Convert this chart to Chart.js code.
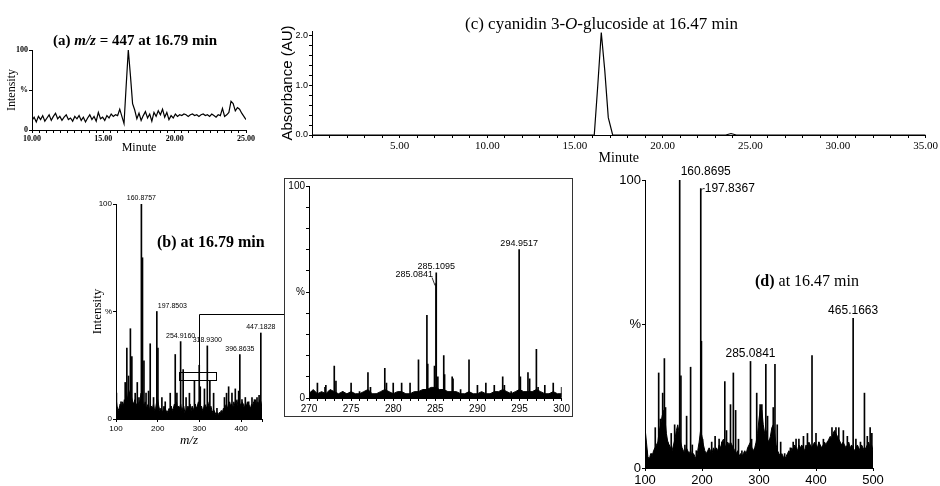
<!DOCTYPE html>
<html>
<head>
<meta charset="utf-8">
<script src="https://cdn.jsdelivr.net/npm/chart.js@4.4.1/dist/chart.umd.min.js"></script>
<style>
body { margin: 0; background: #fff; width: 940px; height: 486px; overflow: hidden; position: relative; }
canvas { position: absolute; }
.ttl { position: absolute; white-space: nowrap; font-family: "Liberation Serif", "Times New Roman", serif; color: #000; line-height: 1; }
#insetBox { position: absolute; left: 284px; top: 178px; width: 289px; height: 239px; border: 1px solid #333; box-sizing: border-box; }
</style>
</head>
<body>
<canvas id="chartA" width="262" height="165" style="left:0;top:0"></canvas>
<canvas id="chartC" width="670" height="170" style="left:270px;top:0"></canvas>
<canvas id="chartB" width="205" height="280" style="left:80px;top:180px"></canvas>
<div id="insetBox"></div>
<canvas id="chartInset" width="287" height="237" style="left:285px;top:179px"></canvas>
<canvas id="chartD" width="290" height="321" style="left:600px;top:165px"></canvas>

<div class="ttl" style="left:53px;top:33px;font-size:15px;font-weight:bold">(a) <i>m/z</i> = 447 at 16.79 min</div>
<div class="ttl" style="left:465px;top:15px;font-size:17px">(c) cyanidin 3-<i>O</i>-glucoside at 16.47 min</div>
<div class="ttl" style="left:157px;top:234px;font-size:16px;font-weight:bold">(b) at 16.79 min</div>
<div class="ttl" style="left:755px;top:273px;font-size:16px"><b>(d)</b> at 16.47 min</div>

<script>
const serif = '"Liberation Serif", "Times New Roman", serif';
const sans = '"Liberation Sans", Arial, sans-serif';

// (a) extracted ion chromatogram m/z 447, one value every 0.15 min from 10.00
const aStart = 10;
const aStep = 0.15;
const aIntensity = [
  12, 16, 10, 17, 13, 18, 11, 15, 19, 12,
  17, 21, 14, 17, 12, 16, 19, 13, 15, 11,
  17, 14, 18, 12, 16, 10, 15, 19, 13, 17,
  11, 22, 14, 16, 12, 18, 15, 20, 17, 19,
  18, 26, 17, 8, 55, 100, 68, 33, 25, 14,
  21, 12, 18, 23, 15, 20, 11, 22, 17, 24,
  19, 26, 16, 22, 13, 18, 15, 20, 17, 19,
  18, 20, 19, 17, 19, 20, 18, 19, 17, 19,
  20, 18, 19, 17, 20, 18, 16, 19, 18, 27,
  17, 19, 22, 36, 33, 24, 28, 26, 21, 17, 13
];

// (c) UV chromatogram
const cTime = [0, 16.1, 16.3, 16.5, 16.7, 16.9, 17.15, 23.6, 23.9, 24.2, 35];
const cAbs = [0, 0, 1.0, 2.07, 1.3, 0.35, 0, 0, 0.03, 0, 0];

// (b) MS spectrum at 16.79 min: peaks and baseline (every 2.5 from m/z 100)
const bMz = [101, 112, 122, 126, 130, 134.5, 138, 146, 151, 155, 160.8757, 163.5, 167, 172, 178,
  182, 190, 197.8503, 200.5, 210, 218, 230, 242, 246, 254.916, 261, 268, 276, 288, 299.5,
  302, 312, 318.93, 325, 334, 342, 360, 365, 370, 378, 386, 394, 396.8635, 402, 410,
  418, 426, 432, 438, 443, 447.1828];
const bInt = [12, 8, 17, 33, 20, 42, 29, 12, 17, 10, 100, 75, 27, 12, 13,
  35, 10, 50, 33, 10, 8, 12, 30, 12, 36, 23, 10, 12, 18, 25,
  15, 14, 34, 18, 12, 5, 10, 12, 15, 12, 14, 13, 30, 9, 10,
  8, 10, 9, 10, 11, 40];
const bBaseStart = 100;
const bBaseStep = 2.5;
const bBase = [
  10, 6, 4, 5, 7, 5, 8, 6, 9, 7,
  11, 9, 13, 12, 14, 10, 8, 7, 9, 6,
  7, 8, 6, 9, 12, 10, 7, 6, 8, 5,
  6, 7, 5, 4, 6, 5, 7, 4, 5, 8,
  9, 6, 4, 5, 3, 4, 6, 5, 4, 3,
  4, 5, 3, 6, 4, 5, 7, 6, 8, 5,
  6, 5, 7, 4, 5, 6, 3, 4, 5, 6,
  5, 7, 4, 6, 5, 4, 7, 5, 6, 8,
  7, 5, 6, 4, 5, 7, 6, 5, 8, 6,
  5, 6, 4, 3, 4, 3, 2, 3, 2, 3,
  3, 4, 3, 5, 4, 6, 7, 5, 6, 8,
  6, 7, 5, 8, 6, 7, 9, 6, 8, 7,
  6, 8, 7, 5, 7, 6, 8, 7, 6, 5,
  7, 6, 8, 7, 9, 6, 8, 7, 9, 8,
  5
];
const bLabelMz = [160.8757, 197.8503, 254.916, 318.93, 396.8635, 447.1828];
const bLabelAlign = ['center', 'left', 'center', 'center', 'center', 'center'];
const boxMz = [250, 338];
const boxInt = [18.5, 22];
const connectorMz = 300;
const connectorInt = 49;

// inset: m/z 270-300 expansion
const insetMz = [270.3, 271, 271.9, 272, 273, 273.2, 274, 275, 276, 277, 277.3, 278, 279, 279.2, 280,
  281, 282, 283, 284, 284.1, 284.9, 285.0841, 285.1095, 285.3, 286, 286.1, 287, 287.1, 288, 289,
  290, 291, 292, 293, 293.2, 294, 294.9517, 295.1, 296, 296.2, 297, 297.2, 298, 299, 300];
const insetInt = [3, 7, 5, 6, 15, 8, 3, 7, 3, 12, 5, 2, 14, 7, 7,
  7, 7, 18, 39, 16, 15, 54, 59, 10, 20, 11, 10, 9, 4, 18,
  6, 7, 6, 10, 6, 3, 70, 10, 12, 9, 23, 5, 6, 7, 5];
const insetBaseStart = 270;
const insetBaseStep = 0.5;
const insetBase = [
  2, 4, 2, 3, 2, 4, 3, 2, 3, 2,
  3, 2, 2, 3, 4, 2, 2, 3, 4, 3,
  2, 3, 3, 2, 2, 3, 3, 4, 4, 5,
  5, 4, 4, 3, 3, 3, 2, 2, 3, 2,
  2, 3, 2, 2, 3, 3, 4, 3, 2, 3,
  4, 3, 3, 3, 4, 3, 2, 2, 3, 2,
  2
];
const insetLabelMz = [285.0841, 285.1095, 294.9517];
const insetLabelAlign = ['right', 'center', 'center'];

// (d) MS spectrum at 16.47 min
const dMz = [100, 103, 112, 118, 124, 127, 131, 134, 136, 140, 146, 152, 156, 160.8695, 163,
  170, 173, 180, 183, 190, 197.8367, 199, 201, 210, 217, 223, 230, 235, 240, 243,
  250, 255, 259, 264, 270, 276, 285.0841, 287, 296, 302, 305, 312, 315, 320, 325,
  328, 332, 338, 345, 355, 360, 365, 370, 378, 385, 393, 400, 405, 413, 420,
  428, 435, 440, 448, 455, 465.1663, 470, 478, 485, 490, 495, 498];
const dInt = [17, 6, 5, 14, 33, 17, 26, 38, 21, 9, 12, 15, 10, 100, 32,
  8, 18, 35, 8, 6, 97, 44, 10, 5, 9, 11, 10, 9, 30, 13,
  22, 33, 20, 10, 6, 4, 37, 10, 26, 22, 22, 36, 18, 10, 21,
  36, 15, 9, 5, 7, 9, 10, 10, 11, 12, 39, 12, 9, 10, 9,
  14, 14, 14, 13, 11, 52, 10, 9, 26, 11, 14, 12];
const dBaseStart = 100;
const dBaseStep = 2.5;
const dBase = [
  14, 9, 4, 3, 5, 4, 6, 7, 8, 9,
  13, 15, 18, 20, 17, 12, 9, 8, 7, 6,
  8, 10, 13, 15, 12, 9, 7, 6, 5, 7,
  6, 5, 6, 4, 5, 4, 3, 6, 9, 13,
  11, 8, 6, 5, 6, 7, 6, 5, 7, 6,
  7, 6, 8, 7, 9, 10, 8, 7, 9, 8,
  9, 8, 7, 6, 5, 6, 4, 5, 4, 5,
  6, 5, 7, 8, 9, 7, 6, 7, 9, 12,
  17, 21, 20, 15, 12, 13, 10, 9, 11, 14,
  15, 12, 8, 6, 5, 4, 5, 4, 3, 4,
  5, 6, 5, 7, 6, 8, 7, 6, 8, 7,
  8, 7, 6, 8, 7, 9, 8, 7, 8, 9,
  8, 7, 9, 8, 7, 8, 9, 8, 9, 10,
  11, 10, 12, 13, 12, 11, 10, 9, 8, 9,
  8, 7, 8, 9, 7, 8, 7, 6, 7, 8,
  7, 6, 8, 7, 6, 7, 8, 9, 7, 8,
  6
];
const dLabelMz = [160.8695, 197.8367, 285.0841, 465.1663];
const dLabelAlign = ['left', 'side', 'center', 'center'];

function pts(xs, ys) { return xs.map((x, i) => ({x: x, y: ys[i]})); }
function stepPts(start, step, ys) { return ys.map((y, i) => ({x: start + i * step, y: y})); }
function pctLabel(v) { return v === 100 ? '100' : v === 50 ? '%' : v === 0 ? '0' : ''; }

function peakLabels(mzs, ints, labelMz, labelAlign, size) {
  return {
    id: 'peakLabels',
    afterDatasetsDraw(chart) {
      const {ctx, scales: {x, y}} = chart;
      ctx.save();
      ctx.font = size + 'px ' + sans;
      ctx.fillStyle = '#000';
      ctx.strokeStyle = '#000';
      ctx.lineWidth = 0.8;
      labelMz.forEach((mz, i) => {
        const px = x.getPixelForValue(mz);
        const py = y.getPixelForValue(ints[mzs.indexOf(mz)]);
        const text = mz.toFixed(4);
        const a = labelAlign[i];
        if (a === 'left') {
          ctx.textAlign = 'left'; ctx.textBaseline = 'bottom';
          ctx.fillText(text, px + 1, py - 2);
        } else if (a === 'side') {
          ctx.beginPath(); ctx.moveTo(px, py + 2); ctx.lineTo(px + 2, py); ctx.lineTo(px + 4, py); ctx.stroke();
          ctx.textAlign = 'left'; ctx.textBaseline = 'middle';
          ctx.fillText(text, px + 4, py);
        } else if (a === 'right') {
          ctx.beginPath(); ctx.moveTo(px - 1, py + 2); ctx.lineTo(px - 4, py - 6); ctx.stroke();
          ctx.textAlign = 'right'; ctx.textBaseline = 'bottom';
          ctx.fillText(text, px - 3, py - 5);
        } else {
          ctx.textAlign = 'center'; ctx.textBaseline = 'bottom';
          ctx.fillText(text, px, py - 2);
        }
      });
      ctx.restore();
    }
  };
}

const zoomBox = {
  id: 'zoomBox',
  afterDatasetsDraw(chart) {
    const {ctx, scales: {x, y}} = chart;
    const x0 = x.getPixelForValue(boxMz[0]), x1 = x.getPixelForValue(boxMz[1]);
    const y0 = y.getPixelForValue(boxInt[1]), y1 = y.getPixelForValue(boxInt[0]);
    const xc = x.getPixelForValue(connectorMz), yc = y.getPixelForValue(connectorInt);
    ctx.save();
    ctx.strokeStyle = '#000';
    ctx.lineWidth = 1;
    ctx.strokeRect(Math.round(x0) + 0.5, Math.round(y0) + 0.5, Math.round(x1 - x0), Math.round(y1 - y0));
    ctx.beginPath();
    ctx.moveTo(Math.round(xc) + 0.5, Math.round(y0));
    ctx.lineTo(Math.round(xc) + 0.5, Math.round(yc) + 0.5);
    ctx.lineTo(chart.width, Math.round(yc) + 0.5);
    ctx.stroke();
    ctx.restore();
  }
};

function axis(opts) {
  return Object.assign({
    type: 'linear',
    offset: false,
    border: {display: true, color: '#000', width: 1},
    grid: {drawOnChartArea: false, color: '#000', tickLength: 3, offset: false},
    ticks: {color: '#000', autoSkip: false, maxRotation: 0, padding: 2}
  }, opts);
}

const base = {
  responsive: false,
  animation: false,
  devicePixelRatio: 1,
  plugins: {legend: {display: false}, tooltip: {enabled: false}}
};

// (a)
new Chart(document.getElementById('chartA'), {
  type: 'line',
  data: {datasets: [{
    data: stepPts(aStart, aStep, aIntensity),
    borderColor: '#000', borderWidth: 1.2, pointRadius: 0, tension: 0
  }]},
  options: Object.assign({}, base, {
    layout: {padding: {top: 50, right: 16, left: 0, bottom: 0}},
    scales: {
      x: axis({
        min: 10, max: 25,
        afterFit(s) { s.height = 35; },
        ticks: {color: '#000', autoSkip: false, maxRotation: 0, padding: 1, stepSize: 0.5,
          font: {family: serif, size: 8, weight: 'bold'},
          callback: v => (Math.abs(v % 5) < 1e-9 ? v.toFixed(2) : '')},
        title: {display: true, text: 'Minute', color: '#000', font: {family: serif, size: 12}, padding: {top: 0, bottom: 10}}
      }),
      y: axis({
        min: 0, max: 100,
        afterFit(s) { s.width = 32; },
        ticks: {color: '#000', autoSkip: false, padding: 1, stepSize: 50,
          font: {family: serif, size: 8, weight: 'bold'}, callback: pctLabel},
        title: {display: true, text: 'Intensity', color: '#000', font: {family: serif, size: 12}, padding: {top: 5, bottom: 0}}
      })
    }
  })
});

// (c)
new Chart(document.getElementById('chartC'), {
  type: 'line',
  data: {datasets: [{
    data: pts(cTime, cAbs),
    borderColor: '#000', borderWidth: 1.2, pointRadius: 0, tension: 0
  }]},
  options: Object.assign({}, base, {
    layout: {padding: {top: 31, right: 14, left: 0, bottom: 0}},
    scales: {
      x: axis({
        min: 0, max: 35,
        afterFit(s) { s.height = 35; },
        ticks: {color: '#000', autoSkip: false, maxRotation: 0, padding: 2, stepSize: 1,
          font: {family: serif, size: 11},
          callback: v => (v > 0 && v % 5 === 0 ? v.toFixed(2) : '')},
        title: {display: true, text: 'Minute', color: '#000', font: {family: serif, size: 14}, padding: {top: 0, bottom: 3}}
      }),
      y: axis({
        min: 0, max: 2.1,
        afterFit(s) { s.width = 42; },
        ticks: {color: '#000', autoSkip: false, padding: 1, stepSize: 0.2, includeBounds: false,
          font: {family: sans, size: 9},
          callback: v => (Math.abs(v - Math.round(v)) < 1e-6 ? v.toFixed(1) : '')},
        title: {display: true, text: 'Absorbance (AU)', color: '#000', font: {family: sans, size: 15}, padding: {top: 9, bottom: 0}}
      })
    }
  })
});

function spectrum(id, o) {
  return new Chart(document.getElementById(id), {
    type: 'bar',
    data: {datasets: [
      {type: 'line', data: stepPts(o.baseStart, o.baseStep, o.base), borderColor: '#000', borderWidth: 1,
        backgroundColor: '#000', fill: 'origin', pointRadius: 0, tension: 0},
      {type: 'bar', data: pts(o.mz, o.int), backgroundColor: '#000', borderWidth: 0, barThickness: 1, grouped: false}
    ]},
    options: Object.assign({}, base, {
      layout: {padding: o.padding},
      scales: {
        x: axis({
          min: o.xmin, max: o.xmax,
          afterFit(s) { s.height = o.xh; },
          ticks: {color: '#000', autoSkip: false, maxRotation: 0, padding: 2, stepSize: o.xstep,
            font: {family: sans, size: o.tick},
            callback: v => (v % o.xlab === 0 ? String(v) : '')},
          title: o.xtitle
        }),
        y: axis({
          min: 0, max: 100,
          afterFit(s) { s.width = o.yw; },
          ticks: {color: '#000', autoSkip: false, padding: 1, stepSize: o.ystep,
            font: {family: sans, size: o.tick}, callback: pctLabel},
          title: o.ytitle
        })
      }
    }),
    plugins: o.plugins
  });
}

// (b)
spectrum('chartB', {
  mz: bMz, int: bInt, base: bBase, baseStart: bBaseStart, baseStep: bBaseStep,
  padding: {top: 24, right: 23, left: 0, bottom: 0},
  xmin: 100, xmax: 450, xstep: 100, xlab: 100, xh: 41, yw: 36, ystep: 50, tick: 8,
  xtitle: {display: true, text: 'm/z', color: '#000', font: {family: serif, size: 13, style: 'italic'}, padding: {top: 0, bottom: 12}},
  ytitle: {display: true, text: 'Intensity', color: '#000', font: {family: serif, size: 13}, padding: {top: 10, bottom: 0}},
  plugins: [peakLabels(bMz, bInt, bLabelMz, bLabelAlign, 7), zoomBox]
});

// inset
spectrum('chartInset', {
  mz: insetMz, int: insetInt, base: insetBase, baseStart: insetBaseStart, baseStep: insetBaseStep,
  padding: {top: 7, right: 10, left: 0, bottom: 0},
  xmin: 270, xmax: 300, xstep: 1, xlab: 5, xh: 18, yw: 24, ystep: 10, tick: 10,
  xtitle: {display: false}, ytitle: {display: false},
  plugins: [peakLabels(insetMz, insetInt, insetLabelMz, insetLabelAlign, 9)]
});

// (d)
spectrum('chartD', {
  mz: dMz, int: dInt, base: dBase, baseStart: dBaseStart, baseStep: dBaseStep,
  padding: {top: 15, right: 17, left: 0, bottom: 0},
  xmin: 100, xmax: 500, xstep: 100, xlab: 100, xh: 18, yw: 45, ystep: 50, tick: 13,
  xtitle: {display: false}, ytitle: {display: false},
  plugins: [peakLabels(dMz, dInt, dLabelMz, dLabelAlign, 12)]
});
</script>
</body>
</html>
